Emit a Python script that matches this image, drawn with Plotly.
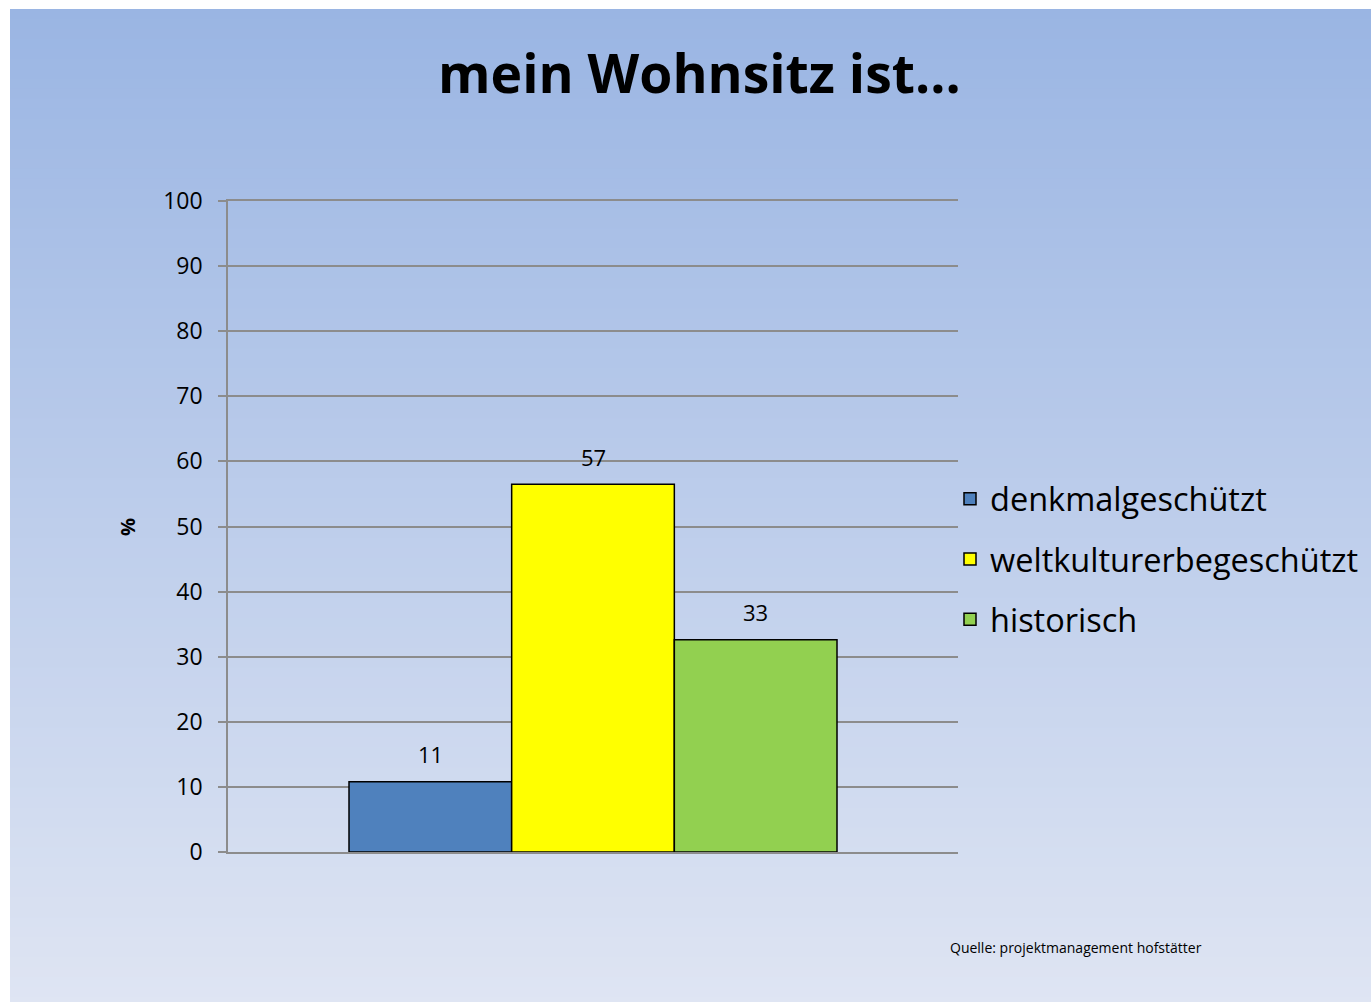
import plotly.graph_objects as go

# ---- data ----
categories = ["denkmalgeschützt", "weltkulturerbegeschützt", "historisch"]
values = [10.8, 56.5, 32.6]
labels = ["11", "57", "33"]
colors = ["#4f81bd", "#ffff00", "#92d050"]
y_ticks = [0, 10, 20, 30, 40, 50, 60, 70, 80, 90, 100]
x_pos = [0, 1, 2]

W, H = 1371, 1002
# plot area in page pixels
PL, PR, PT, PB = 228, 958, 201, 852
FONT = "Open Sans"
GRID = "#8c8c8c"


def px2x(px):  # page px -> paper x
    return (px - PL) / (PR - PL)


def py2y(py):  # page px -> paper y
    return (PB - py) / (PB - PT)


fig = go.Figure()
for name, xp, v, c in zip(categories, x_pos, values, colors):
    fig.add_trace(go.Bar(
        x=[xp], y=[v], name=name, width=1,
        marker=dict(color=c, line=dict(color="black", width=1.5)),
        legendgroup=name,
    ))

# gradient background bands (paper coordinates)
top_c = (0x9a, 0xb5, 0xe3)
bot_c = (0xdf, 0xe5, 0xf3)
y0, y1 = 9, H + 5
n = 100
shapes = []
for i in range(n):
    a = y0 + (y1 - y0) * i / n
    b = y0 + (y1 - y0) * (i + 1) / n + 3
    t = (i + 0.5) / n
    col = tuple(round(top_c[k] + (bot_c[k] - top_c[k]) * t) for k in range(3))
    shapes.append(dict(type="rect", xref="paper", yref="paper", layer="below",
                       x0=px2x(10), x1=px2x(W + 20), y0=py2y(a), y1=py2y(min(b, y1)),
                       fillcolor="rgb(%d,%d,%d)" % col, line=dict(width=0)))

annotations = [
    dict(text="<b>mein Wohnsitz ist...</b>", xref="paper", yref="paper",
         x=px2x(699), y=py2y(72), xanchor="center", yanchor="middle",
         showarrow=False, font=dict(size=53.5, color="black", family=FONT)),
    dict(text="<b>%</b>", xref="paper", yref="paper", x=px2x(127), y=py2y(527),
         xanchor="center", yanchor="middle", textangle=-90, showarrow=False,
         font=dict(size=20, color="black", family=FONT)),
    dict(text="Quelle: projektmanagement hofstätter", xref="paper", yref="paper",
         x=px2x(948), y=py2y(947), xanchor="left", yanchor="middle",
         showarrow=False, font=dict(size=14, color="black", family=FONT)),
]
for xp, v, lab in zip(x_pos, values, labels):
    annotations.append(dict(text=lab, x=xp, y=v, xref="x", yref="y",
                            xanchor="center", yanchor="middle", yshift=27.5,
                            showarrow=False,
                            font=dict(size=22, color="black", family=FONT)))

fig.update_layout(
    width=W, height=H,
    margin=dict(l=PL, r=W - PR, t=PT, b=H - PB, autoexpand=False),
    paper_bgcolor="white", plot_bgcolor="rgba(0,0,0,0)",
    barmode="overlay",
    shapes=shapes, annotations=annotations,
    showlegend=True,
    legend=dict(x=px2x(950), xanchor="left", y=py2y(559), yanchor="middle",
                font=dict(size=32.5, color="black", family=FONT),
                bgcolor="rgba(0,0,0,0)", traceorder="grouped",
                tracegroupgap=15, itemwidth=30),
    font=dict(family=FONT, color="black"),
)
span = (PR - PL) / (837 - 349) * 3  # x units across plot width
fig.update_xaxes(range=[1 - span / 2, 1 + span / 2], showgrid=False,
                 showline=True, mirror=True, linecolor=GRID, linewidth=1.5,
                 showticklabels=False, zeroline=False, ticks="")
fig.update_yaxes(range=[0, 100], tickvals=y_ticks, showgrid=True,
                 gridcolor=GRID, gridwidth=1.5, zeroline=False,
                 showline=True, linecolor=GRID, linewidth=1.5,
                 ticks="outside", ticklen=8, tickcolor=GRID, tickwidth=1.5,
                 tickfont=dict(size=23, color="black", family=FONT),
                 ticklabelstandoff=11)

fig.write_html(
    "out.html",
    config={"displayModeBar": False},
    post_script="document.body.style.margin='0';document.body.style.overflow='hidden';",
)
